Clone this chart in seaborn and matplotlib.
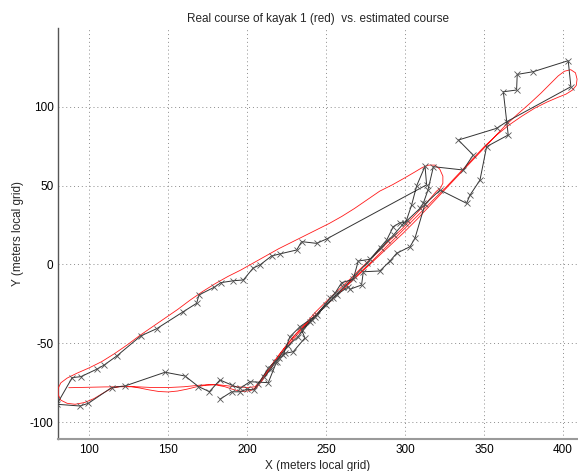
import matplotlib
matplotlib.use("Agg")
import matplotlib.pyplot as plt
import seaborn as sns
import numpy as np

# ---------------- data (meters, local grid) ----------------
# Real course (red)
real_x = [204, 208, 212, 216, 220, 225, 230, 236, 243, 251, 259, 267, 275, 283, 291, 299, 307, 315,
          323, 331, 339, 347, 355, 363, 371, 379, 386, 392, 397, 401, 405, 408, 409, 408.5, 406, 402,
          397, 390, 382, 374, 366, 358, 350, 342, 334, 326, 318, 310, 302, 294, 286, 278, 270, 262,
          254, 246, 239, 233, 228, 223, 218.5, 214, 210, 206, 202, 197, 192, 186, 180, 174, 168, 162,
          156, 150, 144, 138, 132, 126, 120, 114, 108, 103, 97, 91, 86, 82, 80.3, 80.3, 82, 86, 92,
          100, 108, 116, 124, 132, 140, 148, 156, 164, 172, 180, 188, 196, 204, 212, 220, 228, 236,
          244, 252, 260, 268, 276, 284, 292, 300, 306, 311, 315, 319, 322, 324, 324, 322.5, 320, 314,
          306, 298, 290, 282, 274, 266, 258, 250, 243, 237, 231, 226, 221, 216.5, 212, 208, 205, 200,
          190, 180, 170, 160, 150, 140, 130, 120, 110, 100, 92, 87]
real_y = [-79.3, -75, -69, -63, -57.5, -51, -45, -39, -32.5, -25, -17.5, -10, -2.5, 5, 12.5, 20, 28, 36.5,
          45, 53.5, 62, 70.5, 79, 87.5, 95, 102, 108.5, 114.5, 119.5, 122.5, 123.5, 121.5, 117.5, 113.5,
          110.5, 108, 106, 103, 99, 94, 88.5, 82, 74.5, 66, 57.5, 49, 41, 33, 25, 17, 9, 1, -6.5, -14,
          -22, -29.5, -36.5, -43, -49, -55, -61, -67, -73, -78, -80, -80.5, -79.5, -77.5, -76.3, -76.5,
          -77.5, -79, -80.2, -80.8, -80.5, -79.5, -78.3, -77.3, -77.2, -78.5, -82, -85, -87.5, -88.6,
          -88, -86, -82.5, -78.5, -75, -72, -69, -65.5, -61.5, -56.5, -51, -45, -39.5, -34, -28.5,
          -22.5, -17, -12, -7.5, -3.5, 1, 5.5, 10, 14, 18, 22, 26, 30.5, 35.5, 41, 46.5, 50.5, 55, 58.5,
          61.5, 63, 63, 60.5, 56, 51.5, 48.5, 46.5, 39.5, 31, 22.5, 15, 7, -0.5, -8.5, -16, -23.5,
          -30.5, -37.5, -44, -50, -56.5, -62.5, -68.5, -74, -77.5, -78, -77.2, -76, -76.5, -77.5, -78,
          -78, -77.5, -77.5, -77.6, -77.8, -78, -78.1]

# Estimated course (black, one cross per estimate)
est_x = [182.8, 190.2, 195.5, 199.7, 204.3, 207.1, 213.4, 217.6, 222.9, 227.1, 233.5, 244, 254.6, 256.7,
         264.1, 265.1, 272.5, 273.6, 284.1, 290.5, 294.7, 303.2, 306.3, 312.7, 322.2, 339, 341.2, 347.5,
         351.7, 365.4, 362.3, 370.7, 371.1, 381.2, 403.4, 405.1, 364.4, 358, 333.8, 343.2, 336.9, 318,
         314.5, 311.6, 309.5, 300, 296.8, 292.6, 288.4, 277.8, 270.4, 267.2, 259.9, 255.6, 252.5, 243,
         239.8, 234.5, 236.6, 229.2, 224, 218.7, 213.4, 201.8, 195.5, 190.2, 182.8, 176.1, 169.2, 160.7,
         148, 122.6, 114.2, 99.4, 94.1, 79.5, 89.2, 94.7, 104.7, 109.5, 117.4, 132.6, 142.7, 159.6, 168,
         169.5, 179.2, 183.4, 191.3, 197.6, 203.9, 208.1, 215.5, 220.7, 231.4, 234.5, 244, 250.4, 313.7,
         312.7, 307.4, 304.2, 301, 293, 285, 276, 268, 261, 250, 241, 232, 226, 220, 215, 211]
est_y = [-85.4, -80.7, -80.7, -79.1, -79.5, -75.7, -65.8, -61.6, -57.3, -45.8, -39.4, -32, -21.4, -19.3,
         -14.1, -15.7, -13, -4.6, -4.1, 2.2, 7.1, 11.3, 16.6, 38.3, 47.2, 38.8, 44, 53.5, 74.7, 82.1,
         109.5, 110.6, 120.5, 122.2, 129.2, 112.7, 90.5, 86.3, 78.9, 69.4, 59.9, 62, 47, 38.8, 35.6, 26.5,
         26.5, 24, 15.5, 3.3, 2.2, -9.4, -11.5, -18.3, -21.4, -33.1, -36.2, -41.5, -46.6, -55.3, -56.3,
         -61.6, -74.9, -74.3, -78.5, -76.4, -73.2, -80.6, -77.4, -70.7, -68.3, -77, -78, -88, -89.7,
         -88.6, -71.7, -71.1, -66.4, -63.7, -58, -45.3, -40.7, -29.9, -24.6, -19.3, -14.4, -11.5, -10.3,
         -9.8, -2.2, -0.3, 5.4, 6.7, 9.2, 14.5, 13.4, 16.2, 50.5, 62.3, 49.9, 37.7, 28.2, 19, 10.5, 1,
         -7.5, -14.5, -25.5, -35, -46, -51.5, -59, -66, -71.5]

x_ticks = [100, 150, 200, 250, 300, 350, 400]
y_ticks = [-100, -50, 0, 50, 100]
title_text = "Real course of kayak 1 (red)  vs. estimated course"
x_label = "X (meters local grid)"
y_label = "Y (meters local grid)"

# ---------------- figure ----------------
sns.set_style("white")
plt.rcParams['font.family'] = ['Liberation Sans', 'DejaVu Sans']

fig = plt.figure(figsize=(5.78, 4.71), dpi=100)
ax = fig.add_axes([0.0998, 0.069, 0.9002, 0.8705])

sns.lineplot(x=real_x, y=real_y, sort=False, estimator=None, color='#ff1a1a',
             linewidth=0.6, ax=ax, zorder=3)
sns.lineplot(x=est_x, y=est_y, sort=False, estimator=None, color='#333333',
             linewidth=0.7, marker='x', markersize=4.5, markeredgewidth=0.6,
             markeredgecolor='#555555', ax=ax, zorder=4)

ax.set_xlim(80, 409.6)
ax.set_ylim(-110.3, 149.6)
ax.set_xticks(x_ticks)
ax.set_yticks(y_ticks)
ax.set_xticklabels([str(v) for v in x_ticks])
ax.set_yticklabels([str(v) for v in y_ticks])

ax.grid(True, linestyle=(0, (1, 3)), color='#8c8c8c', linewidth=0.7)
ax.set_axisbelow(True)

for s in ['top', 'right']:
    ax.spines[s].set_visible(False)
ax.spines['left'].set_color('#555555')
ax.spines['bottom'].set_color('#9a9a9a')
ax.spines['left'].set_linewidth(1.0)
ax.spines['bottom'].set_linewidth(1.5)

ax.tick_params(axis='both', direction='in', length=4, width=1.0, labelsize=8.5,
               labelcolor='black')
ax.tick_params(axis='x', colors='#777777', pad=4, labelcolor='black')
ax.tick_params(axis='y', colors='#555555', pad=3, labelcolor='black')

ax.set_title(title_text, fontsize=8.5, pad=5)
ax.set_xlabel(x_label, fontsize=8.5, labelpad=2.5)
ax.set_ylabel(y_label, fontsize=8.5, labelpad=4)

fig.savefig("out.png", dpi=100)
